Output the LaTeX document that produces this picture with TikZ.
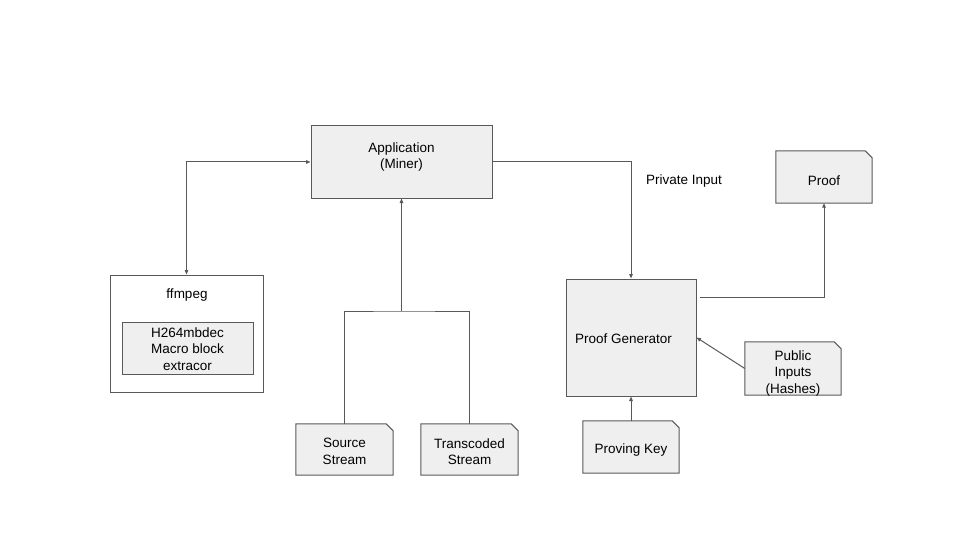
\documentclass[tikz,border=0pt]{standalone}
\usepackage{fontspec}
\setmainfont{Liberation Sans}
\usetikzlibrary{arrows.meta}
\definecolor{boxfill}{HTML}{EFEFEF}
\definecolor{edge}{HTML}{595959}
% outline of a document shape with its top right corner cut off
\newcommand\docoutline[1]{%
  \filldraw[docline] (#1.south west) -- (#1.north west)
    -- ([xshift=-7pt]#1.north east) -- ([yshift=-7pt]#1.north east)
    -- (#1.south east) -- cycle;}
\begin{document}
\begin{tikzpicture}[x=1pt,y=-1pt,
  every node/.style={font=\fontsize{13.5}{16.5}\selectfont, text=black},
  box/.style={draw=edge, fill=boxfill, line width=1pt, inner sep=0pt},
  plainbox/.style={draw=edge, fill=white, line width=1pt, inner sep=0pt},
  doc/.style={rectangle, inner sep=0pt, minimum width=96pt, minimum height=52pt},
  docline/.style={draw=edge, fill=boxfill, line width=1pt, line join=miter},
  txt/.style={inner sep=0pt, align=center},
  link/.style={draw=edge, line width=1pt},
  arr/.style={link, -{Triangle[length=4.5pt,width=3.6pt]}},
  barr/.style={link, {Triangle[length=4.5pt,width=3.6pt]}-{Triangle[length=4.5pt,width=3.6pt]}}
]
\useasboundingbox (0,0) rectangle (960,540);

% application block
\node[box, minimum width=181pt, minimum height=72pt] (app) at (401.5,162) {};
\node[txt] (apptext) at (401.5,157) {Application\\(Miner)};

% decoder block with its inner extractor
\node[plainbox, minimum width=153pt, minimum height=117pt] (ffmpeg) at (186.5,333.5) {};
\node[txt] (ffmpegtext) at (187,295) {ffmpeg};
\node[box, minimum width=131pt, minimum height=52pt] (mb) at (187.5,348) {};
\node[txt] (mbtext) at (187.5,349) {H264mbdec\\Macro block\\extracor};

% input streams
\node[doc, minimum width=97pt, minimum height=51pt] (src) at (344.5,449.5) {};
\docoutline{src}
\node[txt] (srctext) at (344.5,451.5) {Source\\Stream};
\node[doc, minimum width=97pt, minimum height=51pt] (trans) at (469.5,449.5) {};
\docoutline{trans}
\node[txt] (transtext) at (469.5,451.5) {Transcoded\\Stream};
\coordinate (join) at (401.5,311);

% prover side
\node[box, minimum width=130pt, minimum height=117pt] (pg) at (631,337.5) {};
\node[txt, anchor=west] (pgtext) at (575,339) {Proof Generator};
\node[doc] (proof) at (824,177) {};
\docoutline{proof}
\node[txt] (prooftext) at (824,180.5) {Proof};
\node[doc, minimum height=53pt] (pub) at (793,368.5) {};
\docoutline{pub}
\node[txt] (pubtext) at (793,373.5) {Public\\Inputs\\(Hashes)};
\node[doc] (pk) at (631,447) {};
\docoutline{pk}
\node[txt] (pktext) at (631,450) {Proving Key};
\node[txt] (private) at (684,181) {Private Input};
\coordinate (pgout) at (700,297);

% connectors
\draw[barr] (ffmpeg.north) |- (app.west);
\draw[link] (src.north) |- (join) -| (trans.north);
\draw[arr] (join) -- (app.south);
\draw[arr] (app.east) -| (pg.north);
\draw[arr] (pgout) -| (proof.south);
\draw[arr] (pub.west) -- (pg.east);
\draw[arr] (pk.north) -- (pg.south);
\end{tikzpicture}
\end{document}
